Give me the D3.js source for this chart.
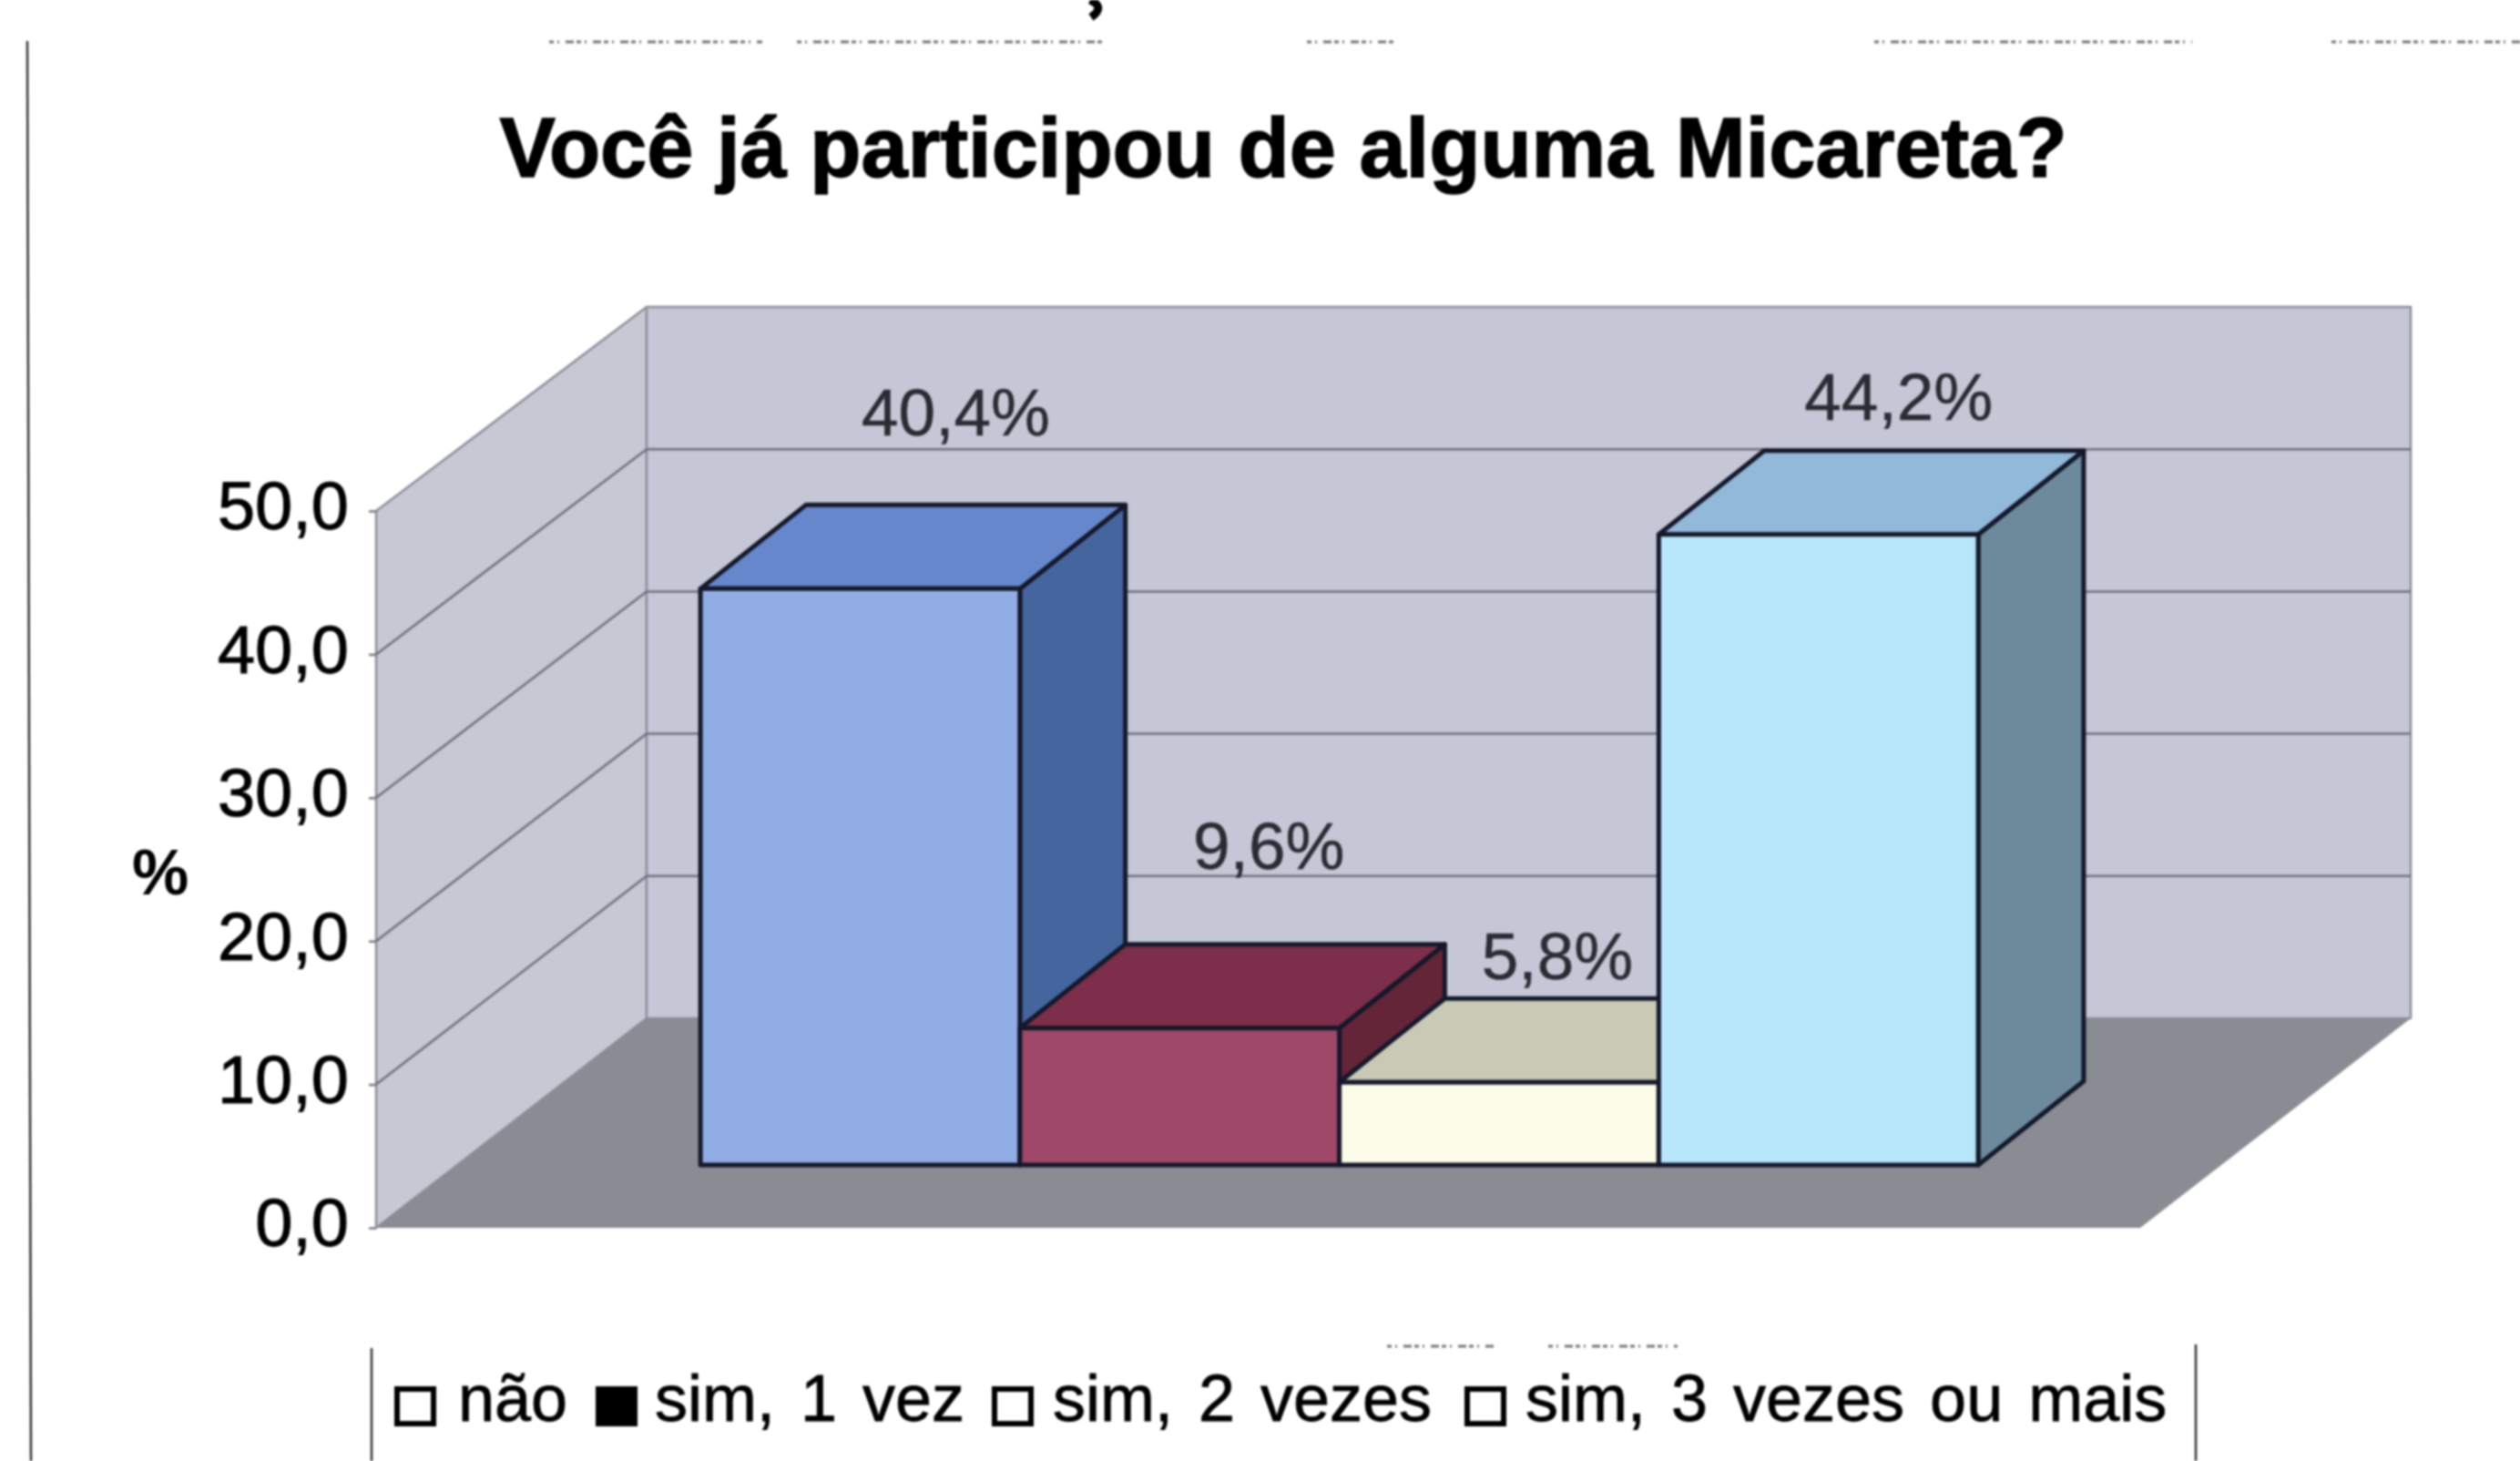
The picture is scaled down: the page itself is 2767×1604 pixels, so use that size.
<!DOCTYPE html>
<html><head><meta charset="utf-8">
<script src="https://cdnjs.cloudflare.com/ajax/libs/d3/7.8.5/d3.min.js"></script>
<style>html,body{margin:0;background:#fff}svg{display:block;filter:blur(.8px)}text{font-family:"Liberation Sans",Arial,sans-serif}</style>
</head><body><svg id="c" width="2767" height="1604"></svg>
<script>
// data
const categories = ["não", "sim, 1 vez", "sim, 2 vezes", "sim, 3 vezes ou mais"];
const values = [40.4, 9.6, 5.8, 44.2];
const valueLabels = ["40,4%", "9,6%", "5,8%", "44,2%"];
const ticks = [0, 10, 20, 30, 40, 50];
const titleText = "Você já participou de alguma Micareta?";
const axisLabel = "%";
// styles
const faceColors = ["#92ade6", "#a04868", "#fdfce8", "#b8e6fb"];
const topColors = ["#6687cc", "#7c2e4a", "#c9c9b6", "#92b8da"];
const sideColors = ["#45659f", "#642538", "#8f8f80", "#6d8a9d"];
// layout
const W = 2767, H = 1604;
const svg = d3.select("#c");
const frontX = d3.scaleLinear().domain([0, 1]).range([413, 2350]);
const depthDx = d3.scaleLinear().domain([0, 1]).range([0, 297]);
const depthDy = d3.scaleLinear().domain([0, 1]).range([0, -230]);
const yFront = d3.scaleLinear().domain([0, 50]).range([1348, 561]);
const yBack = d3.scaleLinear().domain([0, 50]).range([1118, 337]);
const barHeight = d3.scaleLinear().domain([0, 50]).range([0, 783]);
const x = d3.scaleBand().domain(categories).range([680, 2083]).paddingInner(0);
const d0 = 0.3, barDepthX = 0.39, barDepthY = 0.4;
const baseY = yFront(0) + depthDy(d0);
const labelDx = [105, 98, 64, 88], labelDy = [-168, -175, -113, -126];
const poly = (pts, fill, stroke, sw) => svg.append("polygon")
  .attr("points", pts.map(p => p.join(",")).join(" "))
  .attr("fill", fill).attr("stroke", stroke || "none").attr("stroke-width", sw || 0).attr("stroke-linejoin", "round");

// paper edges and scan remnants
const line = (x1, y1, x2, y2, c, w, dash) => svg.append("line").attr("x1", x1).attr("y1", y1).attr("x2", x2).attr("y2", y2)
  .attr("stroke", c).attr("stroke-width", w).attr("stroke-dasharray", dash || null);
line(30, 45, 34, H, "#333", 2.5);
line(408, 1480, 408, H, "#333", 2.5);
line(2411, 1476, 2411, H, "#333", 2.5);
[[603, 837, 46], [875, 1210, 46], [1435, 1531, 46], [2058, 2407, 46], [2560, 2767, 46], [1523, 1642, 1478], [1700, 1842, 1478]]
  .forEach(s => line(s[0], s[2], s[1], s[2], "#777", 3, "5 4 2 7 9 3"));
svg.append("path").attr("d", "M1197 0 Q1214 8 1198 19").attr("fill", "none").attr("stroke", "#000").attr("stroke-width", 9);

// walls & floor
const bx0 = frontX(0) + depthDx(1), bx1 = frontX(1) + depthDx(1);
poly([[frontX(0), yFront(50)], [bx0, yBack(50)], [bx0, yBack(0)], [frontX(0), yFront(0)]], "#c6c8d3", "#8d8f9d", 2.5);
poly([[bx0, yBack(50)], [bx1, yBack(50)], [bx1, yBack(0)], [bx0, yBack(0)]], "#c6c7d6", "#8d8f9d", 2.5);
poly([[frontX(0), yFront(0)], [bx0, yBack(0)], [bx1, yBack(0)], [frontX(1), yFront(0)]], "#8a8c94");
ticks.filter(t => t > 0 && t < 50).forEach(t => {
  line(frontX(0), yFront(t), bx0, yBack(t), "#6f7180", 2.5);
  line(bx0, yBack(t), bx1, yBack(t), "#6f7180", 2.5);
});

// axis
const axis = d3.axisLeft(yFront).tickValues(ticks).tickSize(8).tickPadding(22).tickFormat(d => d3.format(".1f")(d).replace(".", ","));
const ag = svg.append("g").attr("transform", `translate(${frontX(0)},0)`).call(axis);
ag.select(".domain").remove();
ag.selectAll("line").attr("stroke", "#777985").attr("stroke-width", 2.5);
ag.selectAll("text").attr("font-size", 74).attr("fill", "#000").attr("stroke", "#000").attr("stroke-width", 1)
  .attr("dy", "0.27em").attr("font-family", '"Liberation Sans",Arial,sans-serif');

// bars
const sk = "#14182a", sw = 5;
categories.forEach((c, i) => {
  const xl = x(c) + depthDx(d0), xr = xl + x.bandwidth();
  const top = baseY - barHeight(values[i]);
  const dx = depthDx(barDepthX), dy = depthDy(barDepthY);
  poly([[xr, top], [xr + dx, top + dy], [xr + dx, baseY + dy], [xr, baseY]], sideColors[i], sk, sw);
  poly([[xl, top], [xl + dx, top + dy], [xr + dx, top + dy], [xr, top]], topColors[i], sk, sw);
  poly([[xl, top], [xr, top], [xr, baseY], [xl, baseY]], faceColors[i], sk, sw);
});
categories.forEach((c, i) => {
  svg.append("text").text(valueLabels[i]).attr("text-anchor", "middle")
    .attr("x", x(c) + depthDx(d0) + x.bandwidth() / 2 + labelDx[i])
    .attr("y", baseY - barHeight(values[i]) + labelDy[i])
    .attr("font-size", 73).attr("fill", "#2a2c34").attr("stroke", "#2a2c34").attr("stroke-width", .5);
});

// title and axis label
svg.append("text").text(titleText).attr("x", 1409).attr("y", 194).attr("text-anchor", "middle")
  .attr("font-size", 92).attr("font-weight", "bold").attr("fill", "#000").attr("stroke", "#000").attr("stroke-width", 1.5);
svg.append("text").text(axisLabel).attr("x", 176).attr("y", 982).attr("text-anchor", "middle")
  .attr("font-size", 70).attr("font-weight", "bold").attr("fill", "#000");

// legend
const legendSwatchX = [433, 654, 1089, 1608], legendTextX = [503, 719, 1156, 1675], legendSwatchFill = ["#fff", "#000", "#fff", "#fff"];
categories.forEach((c, i) => {
  svg.append("rect").attr("x", legendSwatchX[i] + 3).attr("y", 1525).attr("width", 40).attr("height", 38)
    .attr("fill", legendSwatchFill[i]).attr("stroke", "#000").attr("stroke-width", 6);
  svg.append("text").text(c).attr("x", legendTextX[i]).attr("y", 1560).attr("font-size", 72).attr("fill", "#000")
    .attr("stroke", "#000").attr("stroke-width", .8).attr("word-spacing", 8);
});
</script></body></html>
